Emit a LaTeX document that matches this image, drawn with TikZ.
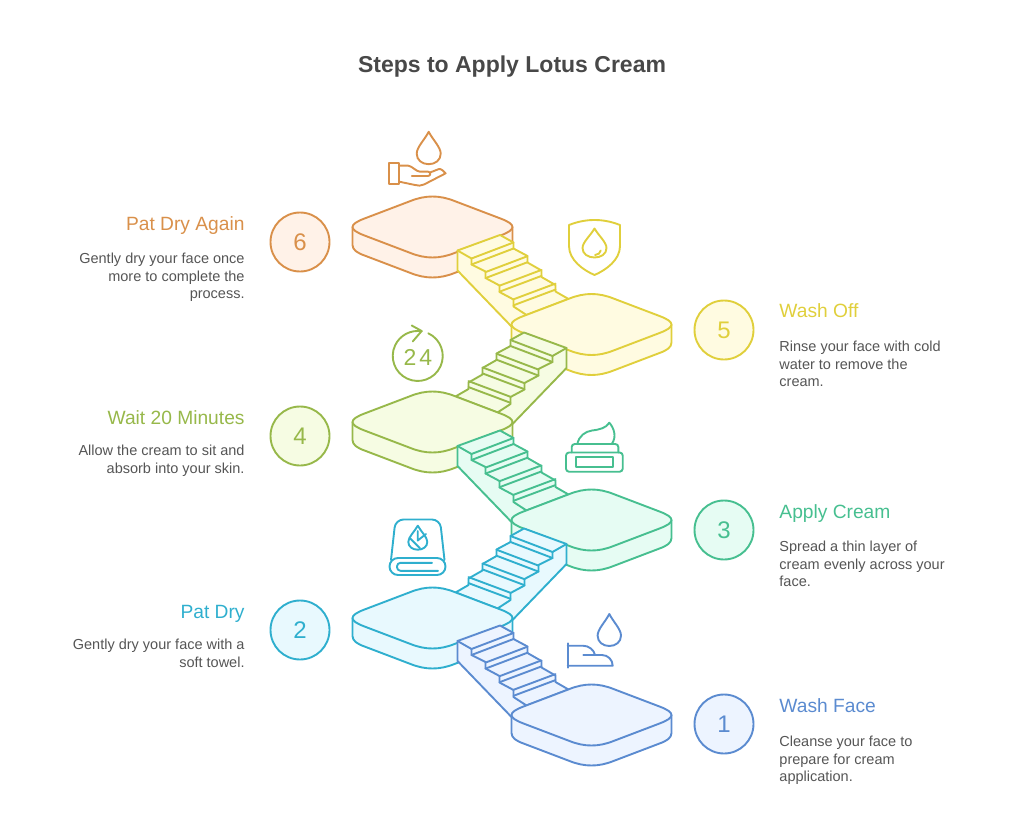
\documentclass[tikz,border=0pt]{standalone}
\usepackage{fontspec}
\setmainfont{Liberation Sans}
\definecolor{washline}{HTML}{5B8BD0}
\definecolor{washfill}{HTML}{EDF4FF}
\definecolor{towelline}{HTML}{2FAFCE}
\definecolor{towelfill}{HTML}{E8F9FE}
\definecolor{creamline}{HTML}{47BF90}
\definecolor{creamfill}{HTML}{E6FCF3}
\definecolor{waitline}{HTML}{97B84A}
\definecolor{waitfill}{HTML}{F6FCE3}
\definecolor{rinseline}{HTML}{E0CF3C}
\definecolor{rinsefill}{HTML}{FFFBE1}
\definecolor{againline}{HTML}{D9904A}
\definecolor{againfill}{HTML}{FFF2E8}
\definecolor{bodytext}{HTML}{555555}
\definecolor{titletext}{HTML}{484848}
\tikzset{
    wash/.style = {draw=washline, fill=washfill},
    towel/.style = {draw=towelline, fill=towelfill},
    cream/.style = {draw=creamline, fill=creamfill},
    wait/.style = {draw=waitline, fill=waitfill},
    rinse/.style = {draw=rinseline, fill=rinsefill},
    again/.style = {draw=againline, fill=againfill},
    badge/.style = {circle, minimum size=59pt, inner sep=0pt, font=\fontsize{24}{28}\selectfont},
    headleft/.style = {anchor=base east, inner sep=0pt, font=\fontsize{19.2}{23}\selectfont},
    headright/.style = {anchor=base west, inner sep=0pt, font=\fontsize{19.2}{23}\selectfont},
    bodyleft/.style = {anchor=north east, inner sep=0pt, align=right, text=bodytext, font=\fontsize{14.5}{17.6}\selectfont},
    bodyright/.style = {anchor=north west, inner sep=0pt, align=left, text=bodytext, font=\fontsize{14.5}{17.6}\selectfont},
    pics/platform/.style = {code={
        \draw [#1] (-80,0) -- (-80,18) .. controls (-80,23) and (-75,26) .. (-68,28.5)
            -- (-22,46) .. controls (-7,52) and (7,52) .. (22,46)
            -- (68,28.5) .. controls (75,26) and (80,23) .. (80,18) -- (80,0) -- cycle;
        \draw [#1] (-68,-8.5) .. controls (-84,-2.5) and (-84,2.5) .. (-68,8.5)
            -- (-22,26) .. controls (-7,32) and (7,32) .. (22,26)
            -- (68,8.5) .. controls (84,2.5) and (84,-2.5) .. (68,-8.5)
            -- (22,-26) .. controls (7,-32) and (-7,-32) .. (-22,-26) -- cycle;
    }},
    pics/stair/.style = {code={
        \draw [#1] (-134,-74) -- (-91.5,-89.5) -- (-78,-82) -- (-78,-76) -- (-64,-68.5) -- (-64,-62)
            -- (-50,-54) -- (-50,-47.5) -- (-36,-39.5) -- (-36,-33) -- (-23,-25.5) -- (-65,-9.5)
            -- (-80,2) -- (-134,-54) -- cycle;
        \draw [#1, fill=none] (-134,-74) -- (-120,-66) -- (-120,-60) -- (-106,-53) -- (-106,-46.5)
            -- (-92,-39) -- (-92,-32.5) -- (-78,-25) -- (-78,-18) -- (-65,-9.5);
        \foreach \i in {0,...,3} {
            \draw [#1, fill=none] ({-120+14*\i},{-66+13.6*\i}) -- ({-78+14*\i},{-82+13.7*\i});
            \draw [#1, fill=none] ({-120+14*\i},{-60+13.6*\i}) -- ({-78+14*\i},{-76+13.7*\i});
        }
    }},
    pics/drop/.style = {code={
        \draw [#1] (0,-1) .. controls (-0.35,-0.5) and (-1,-0.05) .. (-1,0.35)
            .. controls (-1,0.75) and (-0.55,1) .. (0,1)
            .. controls (0.55,1) and (1,0.75) .. (1,0.35)
            .. controls (1,-0.05) and (0.35,-0.5) .. (0,-1) -- cycle;
    }}
}
\begin{document}
\begin{tikzpicture}[x=1pt, y=-1pt, line width=1.9pt, line join=round, line cap=round]
  \useasboundingbox (0,0) rectangle (1024,829);
  \node [text=titletext, font=\fontsize{23}{28}\selectfont\bfseries] (title) at (512,67) {Steps to Apply Lotus Cream};

  % platforms and stairs, from the top down
  \pic at (432.5,227) {platform=again};
  \pic at (591.5,324.5) {stair=rinse};
  \pic at (591.5,324.5) {platform=rinse};
  \pic [xscale=-1] at (432.5,422) {stair=wait};
  \pic at (432.5,422) {platform=wait};
  \pic at (591.5,520) {stair=cream};
  \pic at (591.5,520) {platform=cream};
  \pic [xscale=-1] at (432.5,618) {stair=towel};
  \pic at (432.5,618) {platform=towel};
  \pic at (591.5,715) {stair=wash};
  \pic at (591.5,715) {platform=wash};

  % number badges
  \node [badge, again, text=againline] (six) at (300,242) {6};
  \node [badge, rinse, text=rinseline] (five) at (724,330) {5};
  \node [badge, wait, text=waitline] (four) at (300,436) {4};
  \node [badge, cream, text=creamline] (three) at (724,530) {3};
  \node [badge, towel, text=towelline] (two) at (300,630) {2};
  \node [badge, wash, text=washline] (one) at (724,724) {1};

  % labels
  \node [headleft, text=againline] (sixhead) at (245.5,230.5) {Pat Dry Again};
  \node [bodyleft] (sixbody) at (245.5,252) {Gently dry your face once\\more to complete the\\process.};
  \node [headright, text=rinseline] (fivehead) at (778.5,317.5) {Wash Off};
  \node [bodyright] (fivebody) at (778.5,340) {Rinse your face with cold\\water to remove the\\cream.};
  \node [headleft, text=waitline] (fourhead) at (245.5,424.5) {Wait 20 Minutes};
  \node [bodyleft] (fourbody) at (245.5,444) {Allow the cream to sit and\\absorb into your skin.};
  \node [headright, text=creamline] (threehead) at (778.5,518.5) {Apply Cream};
  \node [bodyright] (threebody) at (778.5,540) {Spread a thin layer of\\cream evenly across your\\face.};
  \node [headleft, text=towelline] (twohead) at (245.5,618.5) {Pat Dry};
  \node [bodyleft] (twobody) at (245.5,638) {Gently dry your face with a\\soft towel.};
  \node [headright, text=washline] (onehead) at (778.5,712.5) {Wash Face};
  \node [bodyright] (onebody) at (778.5,735) {Cleanse your face to\\prepare for cream\\application.};

  % icon: hand and drop
  \pic [xscale=12, yscale=16.2] at (428.7,148) {drop={againline}};
  \draw [againline] (389.3,163.3) rectangle (399.3,184.3);
  \draw [againline] (399.3,165.7) -- (408.3,165.7) .. controls (412,166) and (416,171.5) .. (420,171.7)
      -- (428,171.7) .. controls (431,171.7) and (431,176) .. (428,176) -- (411.7,176);
  \draw [againline] (430,172.5) -- (439,169) .. controls (441,168.5) and (444,171.5) .. (445.7,173.3)
      -- (424,184.5) .. controls (421,186) and (418,185.8) .. (415,185) -- (399.3,181.7);

  % icon: shield and drop
  \draw [rinseline] (569,225) .. controls (578,221.5) and (586,220) .. (594.5,220)
      .. controls (603,220) and (611,221.5) .. (620,225) -- (620,246)
      .. controls (620,260) and (606,270) .. (594.5,275)
      .. controls (583,270) and (569,260) .. (569,246) -- cycle;
  \pic [xscale=12, yscale=14.5] at (594.5,243) {drop={rinseline}};
  \draw [rinseline] (595,255) .. controls (598,255) and (600.5,253) .. (600.7,250.5);

  % icon: clock arrow
  \draw [waitline] (428.3,333.3) arc [start angle=-65, end angle=279, radius=25];
  \draw [waitline] (411.7,325.5) -- (421.7,331) -- (412.7,341.5);
  \node [text=waitline, inner sep=0pt, font=\fontsize{23}{28}\selectfont] (clock) at (418,357.5) {2\hspace{3pt}4};

  % icon: cream jar
  \draw [creamline, rounded corners=3pt] (566,452.5) rectangle (622.7,471.7);
  \draw [creamline] (575.7,456.9) rectangle (612.7,466.7);
  \draw [creamline, rounded corners=3pt] (571.7,452.5) -- (571.7,444) -- (618.3,444) -- (618.3,452.5);
  \draw [creamline] (577.3,444) .. controls (579,436) and (585,431.5) .. (592,430.5)
      .. controls (600,429.5) and (606,428) .. (609.3,422.7)
      .. controls (614,428) and (617,437) .. (611.7,444);

  % icon: towel and drop
  \draw [towelline, rounded corners=8pt] (391,560) -- (395.5,519.5) -- (440,519.5) -- (444.5,560);
  \draw [towelline, rounded corners=8.5pt] (389.5,558) rectangle (445.5,575);
  \draw [towelline, rounded corners=3.5pt] (432,562.8) -- (397,562.8) -- (397,570.8) -- (438,570.8);
  \pic [xscale=9.5, yscale=12] at (417.8,537.7) {drop={towelline}};
  \draw [towelline] (410,538.3) -- (420,548.3);
  \draw [towelline] (417.7,531) -- (417.7,540.5) -- (426,534);

  % icon: foot and drop
  \pic [xscale=11.7, yscale=16] at (609.3,630) {drop={washline}};
  \draw [washline] (567.7,643.3) -- (567.7,667.7);
  \draw [washline] (567.7,645.7) -- (583,645.7) .. controls (589,645.7) and (594,650) .. (595,655);
  \draw [washline] (583.3,655) -- (602,655) .. controls (608,655) and (612.7,660) .. (612.7,665.7) -- (567.7,665.7);
\end{tikzpicture}
\end{document}
